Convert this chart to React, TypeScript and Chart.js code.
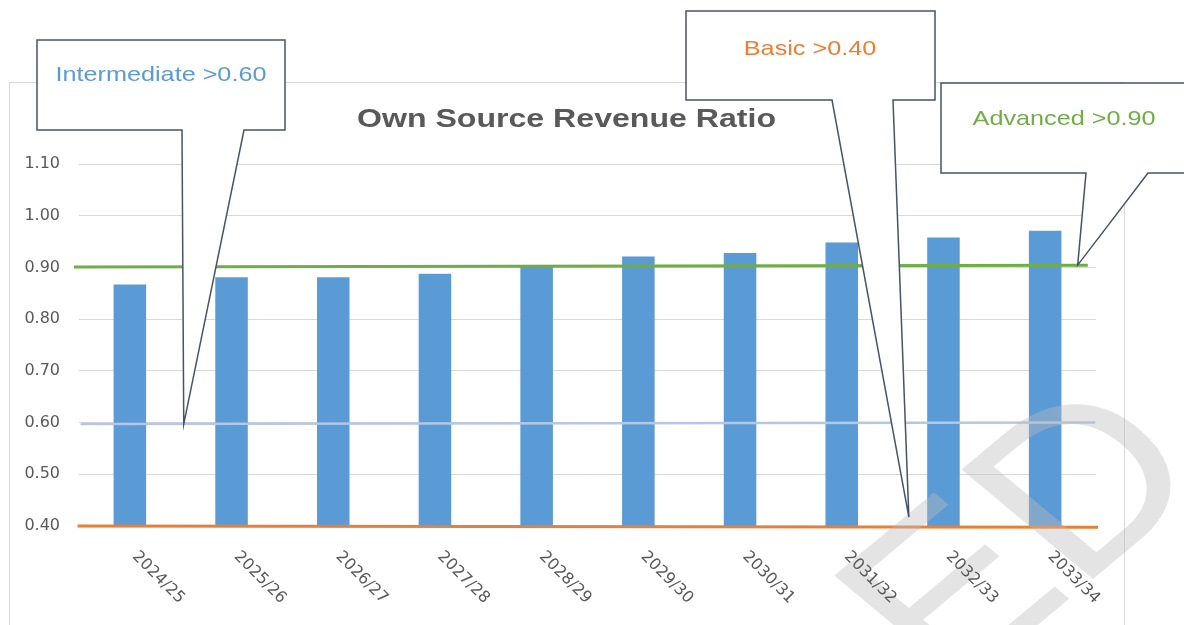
import { useEffect, useRef } from "react";
import { Chart, registerables } from "chart.js";

Chart.register(...registerables);

// ---------- data ----------
const categories = ["2024/25", "2025/26", "2026/27", "2027/28", "2028/29", "2029/30", "2030/31", "2031/32", "2032/33", "2033/34"];
const ratioValues = [0.867, 0.881, 0.881, 0.888, 0.901, 0.921, 0.928, 0.948, 0.958, 0.971];
const yTickValues = [0.4, 0.5, 0.6, 0.7, 0.8, 0.9, 1.0, 1.1];

// threshold lines (x in category-index units)
const advancedLine = [{ x: -0.55, y: 0.901 }, { x: 9.42, y: 0.904 }];
const intermediateLine = [{ x: -0.485, y: 0.597 }, { x: 9.49, y: 0.6 }];
const basicLine = [{ x: -0.514, y: 0.4 }, { x: 9.52, y: 0.3977 }];

const chartTitle = "Own Source Revenue Ratio";
const calloutTexts = ["Intermediate >0.60", "Basic >0.40", "Advanced >0.90"];
const calloutTips = [{ x: 0.53, y: 0.597 }, { x: 7.66, y: 0.417 }, { x: 9.32, y: 0.9045 }];
const watermarkText = "ED";

// ---------- styles ----------
const BAR_COLOR = "#5b9bd5";
const GREEN = "#70ad47";
const LIGHT_BLUE = "#b4c7e7";
const ORANGE = "#ed7d31";
const TEXT_GREY = "#595959";
const CALLOUT_STROKE = "#44546a";
const SANS = "'Liberation Sans', Arial, sans-serif";

const calloutLayout = [
  { l: 37, t: 40, r: 285, b: 130, baseA: 182, baseB: 244, tx: 161, ty: 81, color: BAR_COLOR },
  { l: 686, t: 11, r: 935, b: 100, baseA: 832, baseB: 893, tx: 810, ty: 54.5, color: ORANGE },
  { l: 941, t: 83, r: 1200, b: 173, baseA: 1086, baseB: 1148, tx: 1064, ty: 124.5, color: GREEN },
];

const decorPlugin = {
  id: "decor",
  beforeDraw(chart: any) {
    const ctx = chart.ctx as CanvasRenderingContext2D;
    ctx.save();
    ctx.fillStyle = "#ffffff";
    ctx.fillRect(0, 0, chart.width, chart.height);
    ctx.strokeStyle = "#d9d9d9";
    ctx.lineWidth = 1;
    ctx.strokeRect(9.5, 82.5, 1115, 700);
    ctx.fillStyle = TEXT_GREY;
    ctx.font = `bold 26px ${SANS}`;
    ctx.textAlign = "center";
    ctx.textBaseline = "alphabetic";
    ctx.translate(566.5, 127);
    ctx.scale(1.234, 1);
    ctx.fillText(chartTitle, 0, 0);
    ctx.restore();
  },
  afterDatasetsDraw(chart: any) {
    const ctx = chart.ctx as CanvasRenderingContext2D;
    ctx.save();
    ctx.beginPath();
    ctx.rect(0, 0, chart.width, chart.height);
    ctx.clip();
    ctx.globalAlpha = 0.4;
    ctx.fillStyle = "#bbbbbb";
    ctx.font = `225px ${SANS}`;
    ctx.textAlign = "left";
    ctx.textBaseline = "alphabetic";
    ctx.translate(950, 698);
    ctx.scale(1.2, 1);
    ctx.rotate(-Math.PI / 4);
    ctx.fillText(watermarkText, 0, 0);
    ctx.restore();
  },
  afterDraw(chart: any) {
    const ctx = chart.ctx as CanvasRenderingContext2D;
    const xs = chart.scales.x;
    const ys = chart.scales.y;
    // rotated category labels
    ctx.save();
    ctx.fillStyle = TEXT_GREY;
    ctx.font = "16px 'DejaVu Sans', sans-serif";
    ctx.textAlign = "left";
    ctx.textBaseline = "alphabetic";
    categories.forEach((lab, i) => {
      const px = xs.getPixelForValue(i);
      ctx.save();
      ctx.translate(px + 2, 557);
      ctx.rotate(Math.PI / 4);
      ctx.fillText(lab, 0, 0);
      ctx.restore();
    });
    ctx.restore();
    // callouts
    calloutLayout.forEach((c, i) => {
      const tip = calloutTips[i];
      const tx = xs.getPixelForValue(tip.x);
      const ty = ys.getPixelForValue(tip.y);
      ctx.save();
      ctx.beginPath();
      ctx.moveTo(c.l, c.t);
      ctx.lineTo(c.r, c.t);
      ctx.lineTo(c.r, c.b);
      ctx.lineTo(c.baseB, c.b);
      ctx.lineTo(tx, ty);
      ctx.lineTo(c.baseA, c.b);
      ctx.lineTo(c.l, c.b);
      ctx.closePath();
      ctx.fillStyle = "#ffffff";
      ctx.fill();
      ctx.strokeStyle = CALLOUT_STROKE;
      ctx.lineWidth = 1.5;
      ctx.lineJoin = "miter";
      ctx.stroke();
      ctx.fillStyle = c.color;
      ctx.font = `21px ${SANS}`;
      ctx.textAlign = "center";
      ctx.textBaseline = "alphabetic";
      ctx.translate(c.tx, c.ty);
      ctx.scale(1.2, 1);
      ctx.fillText(calloutTexts[i], 0, 0);
      ctx.restore();
    });
  },
};

export default function App() {
  const ref = useRef<HTMLCanvasElement>(null);
  useEffect(() => {
    document.body.style.margin = "0";
    const canvas = ref.current!;
    const lineBase = { type: "line", xAxisID: "x", yAxisID: "y", pointRadius: 0, clip: false, order: 1 };
    const chart = new Chart(canvas, {
      type: "bar",
      data: {
        datasets: [
          { ...lineBase, label: "Advanced", data: advancedLine, borderColor: GREEN, borderWidth: 3 } as any,
          { ...lineBase, label: "Intermediate", data: intermediateLine, borderColor: LIGHT_BLUE, borderWidth: 2.5 } as any,
          { ...lineBase, label: "Basic", data: basicLine, borderColor: ORANGE, borderWidth: 3 } as any,
          {
            type: "bar",
            label: "Own Source Revenue Ratio",
            data: ratioValues.map((v, i) => ({ x: i, y: v })),
            xAxisID: "x",
            yAxisID: "y",
            backgroundColor: BAR_COLOR,
            categoryPercentage: 1,
            barPercentage: 0.32,
            order: 2,
          } as any,
        ],
      },
      options: {
        responsive: false,
        animation: false,
        devicePixelRatio: 1,
        layout: { padding: { left: 0, right: 88, top: 164, bottom: 99 } },
        plugins: {
          legend: { display: false },
          title: { display: false },
          tooltip: { enabled: false },
        },
        scales: {
          x: {
            type: "linear",
            min: -0.5,
            max: 9.5,
            offset: false,
            display: false,
            afterBuildTicks: (s: any) => {
              s.ticks = categories.map((_, i) => ({ value: i }));
            },
          },
          y: {
            type: "linear",
            min: 0.4,
            max: 1.1,
            grid: { color: "#d9d9d9", lineWidth: 1, drawTicks: false },
            border: { display: false },
            ticks: {
              padding: 19,
              color: TEXT_GREY,
              font: { family: "'DejaVu Sans', sans-serif", size: 16 },
              callback: (v: any) => Number(v).toFixed(2),
            },
            afterBuildTicks: (s: any) => {
              s.ticks = yTickValues.map((v) => ({ value: v }));
            },
            afterFit: (s: any) => {
              s.width = 79;
            },
          },
        },
      } as any,
      plugins: [decorPlugin],
    });
    return () => chart.destroy();
  }, []);
  return (
    <canvas
      ref={ref}
      width={1184}
      height={625}
      style={{ display: "block", position: "fixed", left: 0, top: 0 }}
    />
  );
}
